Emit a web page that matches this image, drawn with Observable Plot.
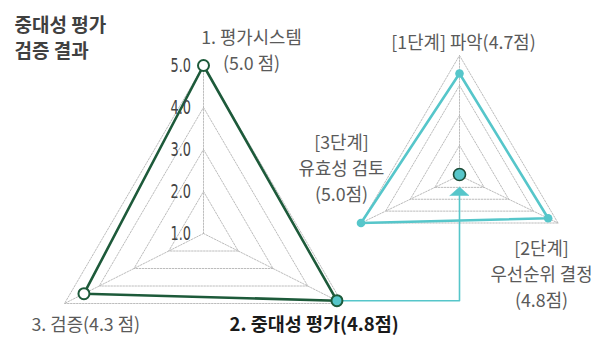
<!DOCTYPE html>
<html><head><meta charset="utf-8">
<script src="https://cdn.jsdelivr.net/npm/d3@7"></script>
<script src="https://cdn.jsdelivr.net/npm/@observablehq/plot@0.6"></script>
<style>
html,body{margin:0;padding:0;background:#fff;}
#chart svg{display:block;}
.tk{transform-origin:191px 0px;transform:scaleX(0.68);}
.tk text{font-family:'DejaVu Sans',sans-serif;}
</style></head>
<body><div id="chart"></div>
<script>
// ---- data ----
const titleLines = ["중대성 평가", "검증 결과"];
const axesLeft = ["1. 평가시스템", "2. 중대성 평가", "3. 검증"];
const valuesLeft = [5.0, 4.8, 4.3];
const labelsLeft = ["1. 평가시스템\n(5.0 점)", "2. 중대성 평가(4.8점)", "3. 검증(4.3 점)"];
const axesRight = ["[1단계] 파악", "[2단계] 우선순위 결정", "[3단계] 유효성 검토"];
const valuesRight = [4.7, 4.8, 5.0];
const labelsRight = ["[1단계] 파악(4.7점)", "[2단계]\n우선순위 결정\n(4.8점)", "[3단계]\n유효성 검토\n(5.0점)"];
const tickLabels = ["1.0", "2.0", "3.0", "4.0", "5.0"];

// ---- layout ----
const W = 597, H = 337;
const GREEN = "#1d5a3a", TEAL = "#56c6ca", GRID = "#b4b4b4", TXT = "#5a5a5a";
const KR = "'Noto Sans CJK KR','Noto Sans',sans-serif";
const gL = {cx: 203, cy: 233, top: 168, bx: 139, by: 70, r: d3.scaleLinear([0, 5], [0, 1])};
const gR = {cx: 459, cy: 175, top: 120, bx: 98.5, by: 47.5, r: d3.scaleLinear([3, 5], [0, 1])};
const rings = 4;
function dir(g, i) { return i === 0 ? [0, -g.top] : i === 1 ? [g.bx, g.by] : [-g.bx, g.by]; }
function at(g, i, f) { const [dx, dy] = dir(g, i); return {x: g.cx + f * dx, y: g.cy + f * dy}; }

function gridData(g) {
  const out = [];
  for (let k = 1; k <= rings; k++) for (const i of [0, 1, 2, 0]) out.push({...at(g, i, k / rings), z: "r" + k});
  for (let i = 0; i < 3; i++) { out.push({...at(g, i, 0), z: "s" + i}); out.push({...at(g, i, 1), z: "s" + i}); }
  return out;
}
function seriesData(g, axes, values) {
  return axes.map((a, i) => ({axis: a, value: values[i], idx: i, ...at(g, i, g.r(values[i]))}));
}
const ptsL = seriesData(gL, axesLeft, valuesLeft);
const ptsR = seriesData(gR, axesRight, valuesRight);
const closed = p => [...p, p[0]];

// arrow from "2. 중대성 평가" point to centre of right radar
const src = ptsL[1];
const arrowPath = [{x: src.x, y: src.y}, {x: gR.cx, y: src.y}, {x: gR.cx, y: gR.cy + 20}];
const head = [{x: gR.cx - 9.5, y: gR.cy + 20}, {x: gR.cx + 9.5, y: gR.cy + 20}, {x: gR.cx, y: gR.cy + 11.5}, {x: gR.cx - 9.5, y: gR.cy + 20}];

const ticks = tickLabels.map((t, k) => ({t, ...at(gL, 0, k / rings)}));

const topL = at(gL, 0, 1);
const labelTopL = [{t: labelsLeft[0], x: topL.x + 48, y: topL.y - 17}];
const labelBR = [{t: labelsLeft[1], x: 229, y: 325}];
const labelBL = [{t: labelsLeft[2], x: 31, y: 325}];
const textsRight = [
  {t: labelsRight[0], x: gR.cx + 4, y: 40},
  {t: labelsRight[1], x: 541, y: 272},
  {t: labelsRight[2], x: 341, y: 166}
];

const chart = Plot.plot({
  width: W, height: H, margin: 0,
  x: {domain: [0, W], range: [0, W], axis: null},
  y: {domain: [0, H], range: [0, H], axis: null},
  style: {background: "#fff"},
  marks: [
    Plot.line(gridData(gL), {x: "x", y: "y", z: "z", stroke: GRID, strokeWidth: 0.9, strokeDasharray: "1.6,1.4"}),
    Plot.line(gridData(gR), {x: "x", y: "y", z: "z", stroke: GRID, strokeWidth: 0.9, strokeDasharray: "1.6,1.4"}),
    Plot.line(arrowPath, {x: "x", y: "y", stroke: TEAL, strokeWidth: 1.6, curve: "linear"}),
    Plot.line(head, {x: "x", y: "y", fill: TEAL, stroke: TEAL, strokeWidth: 0.5}),
    Plot.line(closed(ptsL), {x: "x", y: "y", stroke: GREEN, strokeWidth: 2.6, strokeLinejoin: "round"}),
    Plot.line(closed(ptsR), {x: "x", y: "y", stroke: TEAL, strokeWidth: 2.6, strokeLinejoin: "round"}),
    Plot.dot(ptsL, {x: "x", y: "y", r: 5.5, fill: d => d.idx === 1 ? TEAL : "#fff", stroke: GREEN, strokeWidth: 2}),
    Plot.dot(ptsR, {x: "x", y: "y", r: 4.3, fill: TEAL}),
    Plot.dot([{x: gR.cx, y: gR.cy - 1}], {x: "x", y: "y", r: 6, fill: TEAL, stroke: "#1c4a36", strokeWidth: 1.6}),
    Plot.text(ticks, {x: d => d.x - 12, y: d => d.y + 1, text: "t", textAnchor: "end", fontSize: 19, fill: "#444", lineAnchor: "middle", className: "tk"}),
    Plot.text(labelTopL, {x: "x", y: "y", text: "t", fill: TXT, fontSize: 17.8, fontFamily: KR, lineAnchor: "middle", lineHeight: 1.5}),
    Plot.text(labelBL, {x: "x", y: "y", text: "t", textAnchor: "start", fill: TXT, fontSize: 17.8, fontFamily: KR, lineAnchor: "middle"}),
    Plot.text(labelBR, {x: "x", y: "y", text: "t", textAnchor: "start", fontWeight: "bold", fill: "#1a1a1a", fontSize: 18.5, fontFamily: KR, lineAnchor: "middle"}),
    Plot.text(textsRight, {x: "x", y: "y", text: "t", fill: TXT, fontSize: 17.8, fontFamily: KR, lineAnchor: "middle", lineHeight: 1.47}),
    Plot.text([titleLines.join("\n")], {x: 14, y: 36, text: d => d, textAnchor: "start", fontWeight: "bold", fill: "#404040", fontSize: 19, fontFamily: KR, lineAnchor: "middle", lineHeight: 1.4})
  ]
});
document.getElementById("chart").append(chart);
</script></body></html>
